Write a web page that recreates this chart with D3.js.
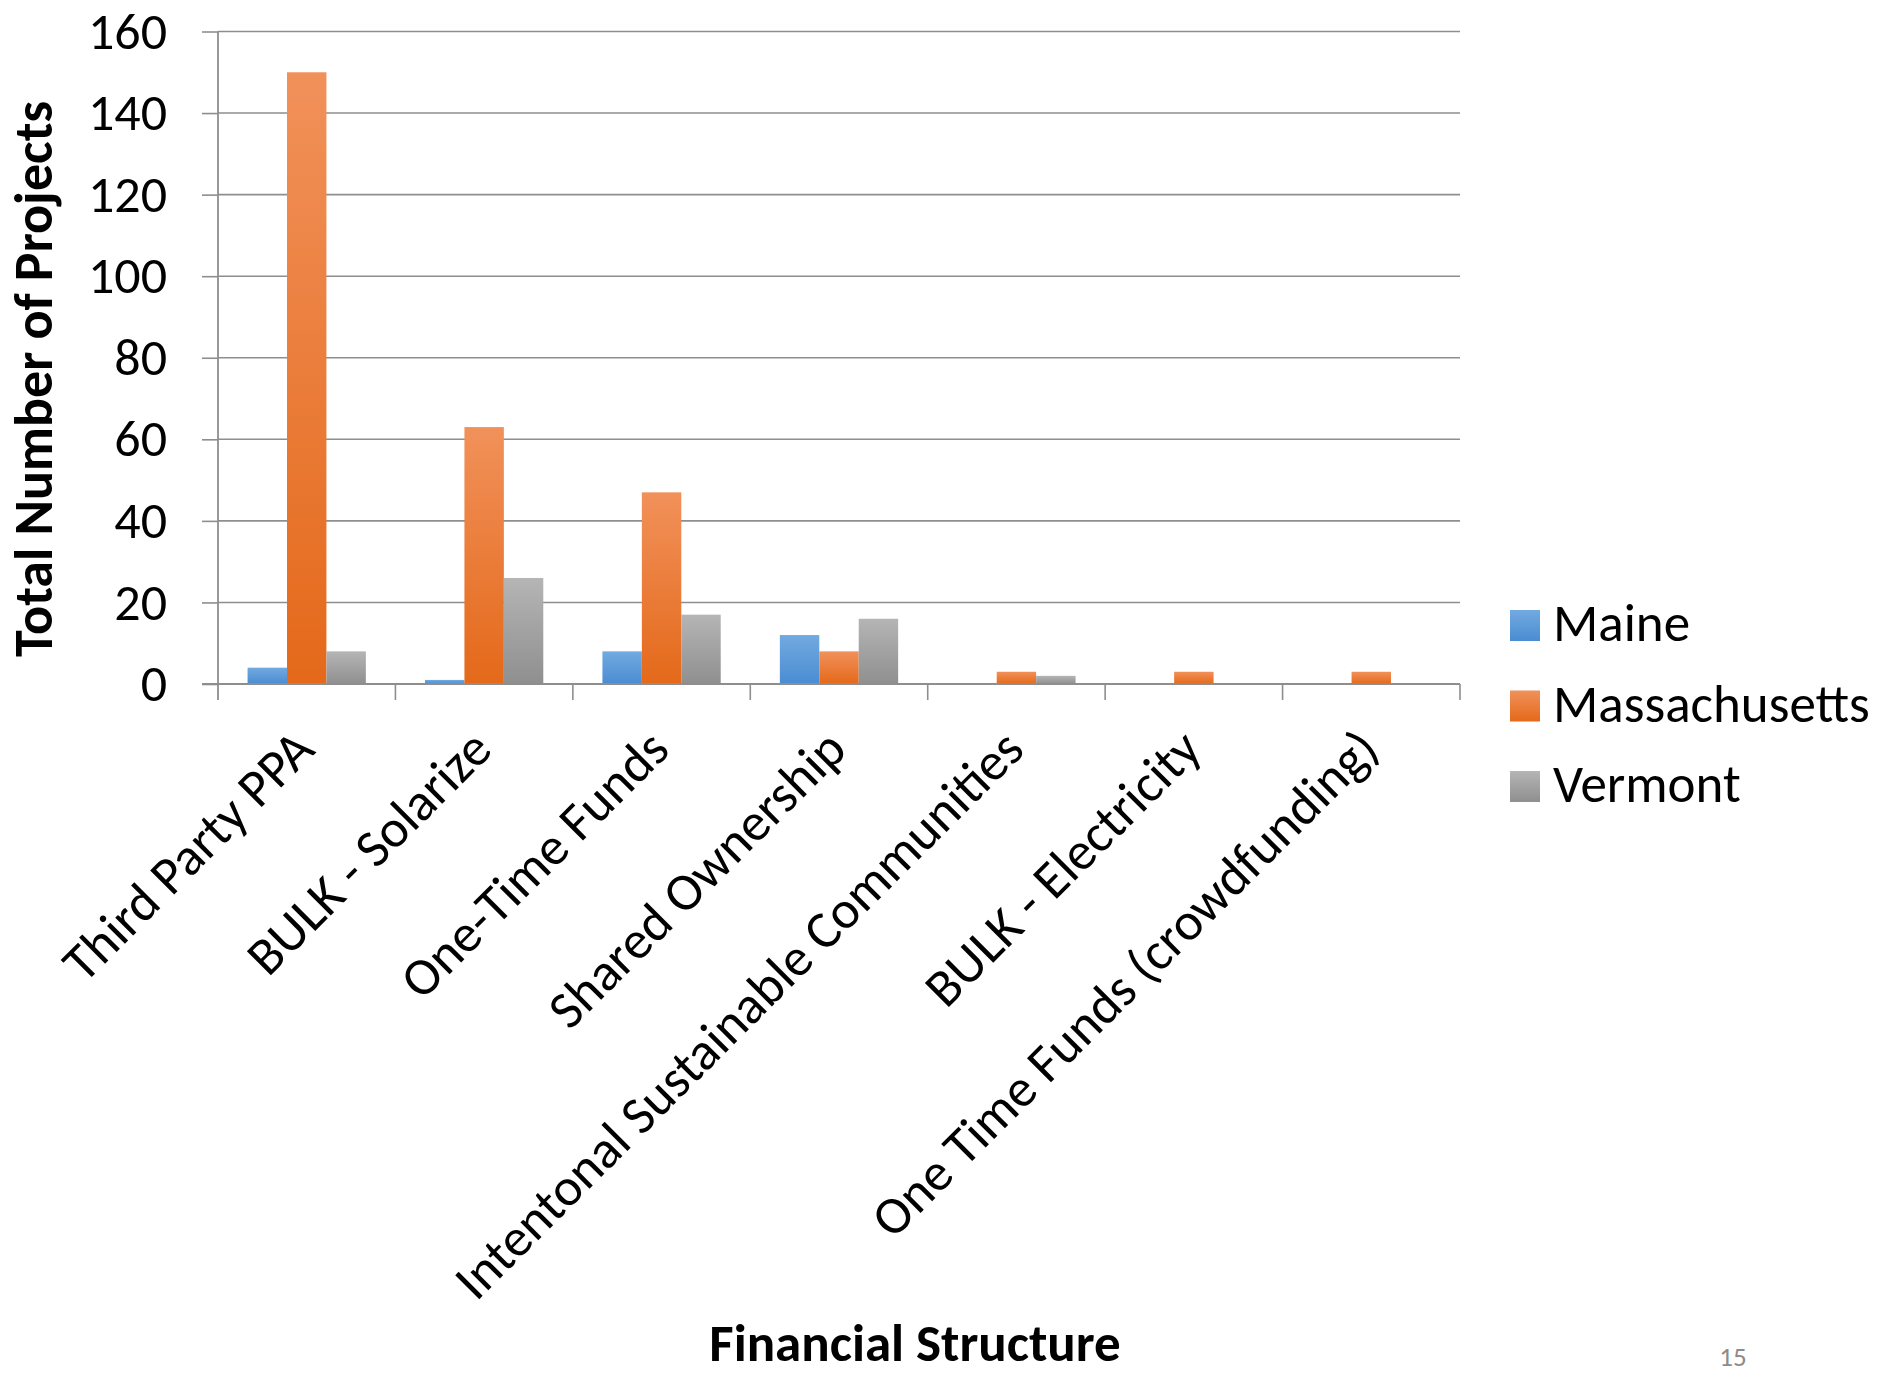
<!DOCTYPE html>
<html>
<head>
<meta charset="utf-8">
<script src="https://cdn.jsdelivr.net/npm/d3@7"></script>
<style>
  html, body { margin: 0; padding: 0; background: #ffffff; }
  svg { display: block; }
  text { font-family: Carlito, Calibri, "Open Sans", sans-serif; fill: #000; }
</style>
</head>
<body>
<svg id="chart" width="1898" height="1374"></svg>
<script>
// Financial structures of community solar projects, by state
const categories = [
  "Third Party PPA",
  "BULK - Solarize",
  "One-Time Funds",
  "Shared Ownership",
  "Intentonal Sustainable Communities",
  "BULK - Electricity",
  "One Time Funds (crowdfunding)"
];
const seriesNames = ["Maine", "Massachusetts", "Vermont"];
const maine = [4, 1, 8, 12, 0, 0, 0];
const massachusetts = [150, 63, 47, 8, 3, 3, 3];
const vermont = [8, 26, 17, 16, 2, 0, 0];
const yTicks = [0, 20, 40, 60, 80, 100, 120, 140, 160];

const seriesValues = [maine, massachusetts, vermont];
const seriesColors = [
  ["#72aae0", "#4a8cd2"],
  ["#f1915a", "#e4691a"],
  ["#b5b5b5", "#8f8f8f"]
];

const svg = d3.select("#chart");
const W = 1898, H = 1374;
svg.append("rect").attr("width", W).attr("height", H).attr("fill", "#fff");

const plot = { left: 218, right: 1460, top: 31.5, bottom: 684 };

const x0 = d3.scaleBand().domain(categories).range([plot.left, plot.right]).paddingInner(0).paddingOuter(0);
const x1 = d3.scaleBand().domain(seriesNames).range([0, x0.bandwidth()]).paddingInner(0).paddingOuter(0.75);
const y = d3.scaleLinear().domain([0, 160]).range([plot.bottom, plot.top]);

// gradients for bar fills
const defs = svg.append("defs");
seriesNames.forEach((name, i) => {
  const g = defs.append("linearGradient")
    .attr("id", "grad" + i).attr("x1", 0).attr("y1", 0).attr("x2", 0).attr("y2", 1);
  g.append("stop").attr("offset", "0%").attr("stop-color", seriesColors[i][0]);
  g.append("stop").attr("offset", "100%").attr("stop-color", seriesColors[i][1]);
});

const gridColor = "#8e8e8e";

// horizontal gridlines
svg.append("g").selectAll("line").data(yTicks.filter(d => d > 0)).join("line")
  .attr("x1", plot.left).attr("x2", plot.right)
  .attr("y1", d => y(d)).attr("y2", d => y(d))
  .attr("stroke", gridColor).attr("stroke-width", 1.6);

// y axis with outside ticks
const yAxis = svg.append("g")
  .attr("transform", `translate(${plot.left},0)`)
  .call(d3.axisLeft(y).tickValues(yTicks).tickSize(16).tickPadding(35).tickFormat(d3.format("d")));
yAxis.select(".domain").remove();
yAxis.selectAll(".tick line").attr("stroke", gridColor).attr("stroke-width", 1.6);
yAxis.selectAll(".tick text")
  .attr("font-family", "'Open Sans', sans-serif").attr("font-size", 52).attr("fill", "#000");

// bars
const groups = svg.append("g").selectAll("g").data(categories).join("g")
  .attr("transform", d => `translate(${x0(d)},0)`);
groups.selectAll("rect")
  .data((c, ci) => seriesNames.map((s, si) => ({ s, si, v: seriesValues[si][ci] })))
  .join("rect")
  .filter(d => d.v > 0)
  .attr("x", d => x1(d.s))
  .attr("width", x1.bandwidth())
  .attr("y", d => y(d.v))
  .attr("height", d => y(0) - y(d.v))
  .attr("fill", d => `url(#grad${d.si})`);

// vertical axis line and category axis
svg.append("line")
  .attr("x1", plot.left).attr("x2", plot.left)
  .attr("y1", plot.top).attr("y2", plot.bottom + 16)
  .attr("stroke", gridColor).attr("stroke-width", 1.8);
svg.append("line")
  .attr("x1", plot.left - 16).attr("x2", plot.right)
  .attr("y1", plot.bottom).attr("y2", plot.bottom)
  .attr("stroke", gridColor).attr("stroke-width", 1.8);
const boundaries = categories.map(c => x0(c)).concat([plot.right]);
svg.append("g").selectAll("line").data(boundaries.slice(1)).join("line")
  .attr("x1", d => d).attr("x2", d => d)
  .attr("y1", plot.bottom).attr("y2", plot.bottom + 16)
  .attr("stroke", gridColor).attr("stroke-width", 1.6);

// rotated category labels
svg.append("g").selectAll("text").data(categories).join("text")
  .attr("transform", d => `translate(${x0(d) + x0.bandwidth() / 2 + 10},752) rotate(-45)`)
  .attr("text-anchor", "end")
  .attr("font-size", 53)
  .text(d => d);

// axis titles
svg.append("text")
  .attr("transform", `translate(52,379) rotate(-90)`)
  .attr("text-anchor", "middle")
  .attr("font-weight", "bold")
  .attr("font-size", 54)
  .text("Total Number of Projects");

svg.append("text")
  .attr("x", 915).attr("y", 1361)
  .attr("text-anchor", "middle")
  .attr("font-weight", "bold")
  .attr("font-size", 53)
  .text("Financial Structure");

// legend
const legend = svg.append("g").selectAll("g").data(seriesNames).join("g")
  .attr("transform", (d, i) => `translate(1510,${610 + i * 80.5})`);
legend.append("rect")
  .attr("width", 30).attr("height", 31)
  .attr("fill", (d, i) => `url(#grad${i})`);
legend.append("text")
  .attr("x", 43).attr("y", 31)
  .attr("font-size", 53)
  .text(d => d);

// page number
svg.append("text")
  .attr("x", 1733).attr("y", 1366)
  .attr("text-anchor", "middle")
  .attr("font-size", 27)
  .style("fill", "#8c8c8c")
  .text("15");
</script>
</body>
</html>
